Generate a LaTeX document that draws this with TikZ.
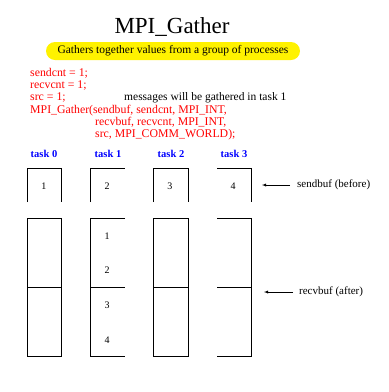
\documentclass[tikz,border=0pt]{standalone}
\usepackage{fontspec}
\setmainfont{Liberation Serif}
\usetikzlibrary{positioning}
\begin{document}
\begin{tikzpicture}[x=1pt, y=-1pt]
    \tikzset{code/.style={text=red, anchor=base west, inner sep=0pt,
        font=\fontsize{11.8}{12}\selectfont}}
    \tikzset{task/.style={text=blue, anchor=base, inner sep=0pt,
        font=\fontsize{10.5}{12}\selectfont\bfseries}}
    \tikzset{value/.style={inner sep=0pt, font=\fontsize{10}{12}\selectfont}}
    \tikzset{buffer/.style={inner sep=0pt, anchor=west,
        font=\fontsize{11}{12}\selectfont}}
    \tikzset{arrow/.style={-latex, thin}}

    \useasboundingbox (0,0) rectangle (389,392);

    \node (title) [anchor=base, inner sep=0pt, font=\fontsize{23}{24}\selectfont]
        at (172,33) {MPI\_Gather};
    \node (summary) [fill=yellow, rounded corners=9pt, minimum width=254pt,
        minimum height=18pt, inner sep=0pt, font=\fontsize{11.5}{12}\selectfont]
        at (173,51) {Gathers together values from a group of processes};

    \node (sendcnt) [code] at (30,76) {sendcnt = 1;};
    \node (recvcnt) [code] at (30,88) {recvcnt = 1;};
    \node (src) [code] at (30,100) {src = 1;};
    \node (note) [code, text=black, font=\fontsize{11.5}{12}\selectfont]
        at (124,100) {messages will be gathered in task 1};
    \node (call1) [code] at (30,113) {MPI\_Gather(sendbuf, sendcnt, MPI\_INT,};
    \node (call2) [code] at (95,125) {recvbuf, recvcnt, MPI\_INT,};
    \node (call3) [code] at (95,137) {src, MPI\_COMM\_WORLD);};

    \node (task0) [task] at (44,157) {task 0};
    \node (task1) [task] at (108,157) {task 1};
    \node (task2) [task] at (171,157) {task 2};
    \node (task3) [task] at (234,157) {task 3};

    % sendbuf (before)
    \draw (27,202) -- (27,168) -- (61,168) -- (61,202);
    \draw (90,202) -- (90,168) -- (125,168);
    \draw (153,202) -- (153,168) -- (188,168) -- (188,202);
    \draw (217,168) -- (251,168) -- (251,202);
    \node (send0) [value] at (44,186) {1};
    \node (send1) [value] at (107,186) {2};
    \node (send2) [value] at (170,186) {3};
    \node (send3) [value] at (233,186) {4};

    % recvbuf (after)
    \draw (27,218) rectangle (61,356);
    \draw (27,287) -- (61,287);
    \draw (125,218) -- (90,218) -- (90,356) -- (125,356);
    \draw (90,287) -- (125,287);
    \draw (153,218) rectangle (188,356);
    \draw (153,287) -- (188,287);
    \draw (217,218) -- (251,218) -- (251,356) -- (217,356);
    \draw (217,287) -- (251,287);
    \node (recv0) [value] at (107,236) {1};
    \node (recv1) [value] at (107,270) {2};
    \node (recv2) [value] at (107,305) {3};
    \node (recv3) [value] at (107,340) {4};

    \node (sendbuf) [buffer] at (297,185) {sendbuf (before)};
    \node (recvbuf) [buffer] at (299,292) {recvbuf (after)};
    \coordinate (sendtip) at (262,185);
    \coordinate (recvtip) at (264,292);
    \draw [arrow] ([xshift=-7pt]sendbuf.west) -- (sendtip);
    \draw [arrow] ([xshift=-6pt]recvbuf.west) -- (recvtip);
\end{tikzpicture}
\end{document}
